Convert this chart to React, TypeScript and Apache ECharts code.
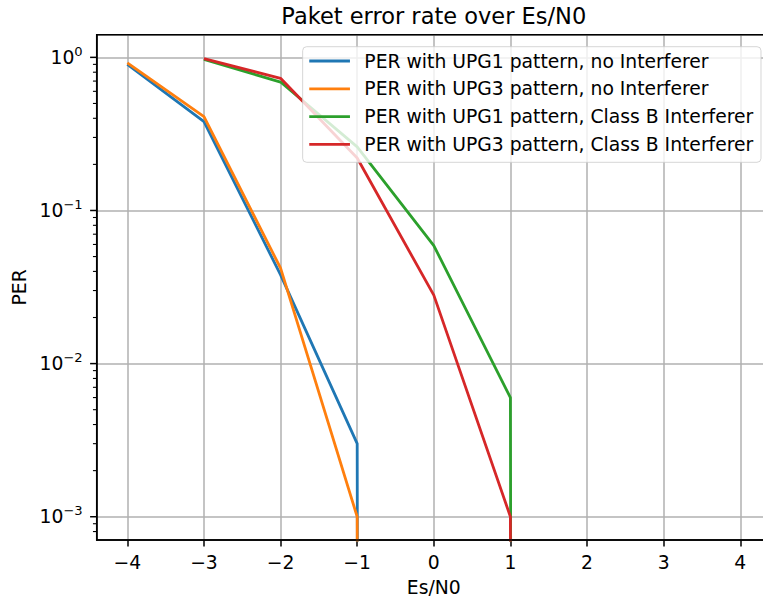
import React, { useEffect, useRef } from 'react';
import * as echarts from 'echarts';

// ---- data ----
const esN0 = [-4, -3, -2, -1, 0, 1, 2, 3, 4];
const seriesNames = [
  'PER with UPG1 pattern, no Interferer',
  'PER with UPG3 pattern, no Interferer',
  'PER with UPG1 pattern, Class B Interferer',
  'PER with UPG3 pattern, Class B Interferer',
];
const perUpg1NoInterferer = [0.9, 0.38, 0.038, 0.003, 0, 0, 0, 0, 0];
const perUpg3NoInterferer = [0.92, 0.41, 0.042, 0.001, 0, 0, 0, 0, 0];
const perUpg1ClassB = [null, 0.97, 0.69, 0.26, 0.059, 0.006, 0, 0, 0];
const perUpg3ClassB = [null, 0.98, 0.73, 0.22, 0.028, 0.001, 0, 0, 0];
const xTickValues = [-4, -3, -2, -1, 0, 1, 2, 3, 4];
const yMajorTickValues = [0.001, 0.01, 0.1, 1];
const yMinorMultipliers = [2, 3, 4, 5, 6, 7, 8, 9];
const yMinorDecades = [-4, -3, -2, -1, 0];

const colors = ['#1f77b4', '#ff7f0e', '#2ca02c', '#d62728'];
const FONT = 'DejaVu Sans';
const W = 763;
const H = 598;
const X_MIN = -4.4;
const X_MAX = 4.4;
const Y_MIN = Math.pow(10, -3.152);
const Y_MAX = Math.pow(10, 0.148);
const LOG_FLOOR = 1e-300; // zero values are clipped to the bottom like matplotlib

const GRID = { left: 96.7, top: 34.7, right: -7.9, bottom: 58 };

function buildData(values: (number | null)[]) {
  const out: [number, number][] = [];
  values.forEach((v, i) => {
    if (v === null) return;
    out.push([esN0[i], v <= 0 ? LOG_FLOOR : v]);
  });
  return out;
}

function supLabel(exp: number) {
  const e = exp < 0 ? '\u2212' + String(-exp) : String(exp);
  return `{b|10}{s|${e}}`;
}

export default function App() {
  const ref = useRef<HTMLDivElement>(null);

  useEffect(() => {
    if (!ref.current) return;
    const chart = echarts.init(ref.current, null, { renderer: 'svg' });
    const allSeries = [perUpg1NoInterferer, perUpg3NoInterferer, perUpg1ClassB, perUpg3ClassB];

    const option: any = {
      animation: false,
      backgroundColor: '#ffffff',
      grid: { ...GRID, containLabel: false, outerBoundsMode: 'none' },
      legend: {
        orient: 'vertical',
        right: 2,
        top: 46.7,
        icon: 'rect',
        itemWidth: 40.7,
        itemHeight: 2.8,
        itemGap: 5.8,
        padding: [3.3, 7.7, 6.9, 6.6],
        backgroundColor: 'rgba(255,255,255,0.8)',
        borderColor: 'rgba(204,204,204,0.8)',
        borderWidth: 1,
        borderRadius: 4,
        data: seriesNames,
        formatter: (name: string) => `{t|${name}}`,
        textStyle: {
          fontSize: 18.75,
          fontFamily: FONT,
          color: '#000',
          lineHeight: 22,
          rich: {
            t: { fontSize: 18.75, fontFamily: FONT, color: '#000', lineHeight: 22, padding: [0, 0, 0, 9.4] },
          },
        },
      },
      xAxis: {
        type: 'value',
        min: X_MIN,
        max: X_MAX,
        axisLine: { show: true, onZero: false, lineStyle: { color: '#000', width: 1.5 } },
        axisTick: { show: true, customValues: xTickValues, length: 6.6, lineStyle: { color: '#000', width: 1.5 } },
        axisLabel: {
          customValues: xTickValues,
          formatter: (v: number) => String(v).replace('-', '\u2212'),
          color: '#000',
          fontSize: 18.75,
          fontFamily: FONT,
          lineHeight: 19,
          margin: 13,
        },
        splitLine: { show: true, lineStyle: { color: '#b0b0b0', width: 1.5 } },
        name: 'Es/N0',
        nameLocation: 'middle',
        nameGap: 37.5,
        nameTextStyle: { color: '#000', fontSize: 18.75, fontFamily: FONT, lineHeight: 19 },
      },
      yAxis: {
        type: 'log',
        logBase: 10,
        min: Y_MIN,
        max: Y_MAX,
        axisLine: { show: true, onZero: false, lineStyle: { color: '#000', width: 1.5 } },
        axisTick: { show: false },
        minorTick: { show: false },
        axisLabel: {
          margin: 14,
          formatter: (v: number) => {
            const l = Math.log10(v);
            const r = Math.round(l);
            return Math.abs(l - r) < 1e-6 ? supLabel(r) : '';
          },
          rich: {
            b: { fontSize: 18.75, fontFamily: FONT, color: '#000', lineHeight: 25, verticalAlign: 'middle' },
            s: { fontSize: 13.1, fontFamily: FONT, color: '#000', lineHeight: 13, verticalAlign: 'top' },
          },
        },
        splitLine: { show: true, lineStyle: { color: '#b0b0b0', width: 1.5 } },
        name: 'PER',
        nameLocation: 'middle',
        nameGap: 67.7,
        nameTextStyle: { color: '#000', fontSize: 18.75, fontFamily: FONT, lineHeight: 19 },
      },
      series: allSeries.map((vals, i) => ({
        name: seriesNames[i],
        type: 'line',
        data: buildData(vals),
        showSymbol: false,
        symbol: 'none',
        clip: true,
        color: colors[i],
        lineStyle: { color: colors[i], width: 2.8, join: 'round', cap: 'butt' },
        emphasis: { disabled: true },
      })),
    };
    chart.setOption(option);

    // y-axis major and minor log ticks, spines, title
    const left = GRID.left;
    const top = GRID.top;
    const gw = W - GRID.left - GRID.right;
    const gh = H - GRID.top - GRID.bottom;
    const graphics: any[] = [];
    yMajorTickValues.forEach((v) => {
      const y = chart.convertToPixel({ yAxisIndex: 0 }, v) as number;
      graphics.push({
        type: 'line',
        z: 50,
        shape: { x1: left - 6.6, y1: y, x2: left, y2: y },
        style: { stroke: '#000', lineWidth: 1.5 },
      });
    });
    yMinorDecades.forEach((k) => {
      yMinorMultipliers.forEach((m) => {
        const v = m * Math.pow(10, k);
        if (v < Y_MIN || v > Y_MAX) return;
        const y = chart.convertToPixel({ yAxisIndex: 0 }, v) as number;
        graphics.push({
          type: 'line',
          z: 50,
          shape: { x1: left - 3.75, y1: y, x2: left, y2: y },
          style: { stroke: '#000', lineWidth: 1.1 },
        });
      });
    });
    graphics.push({
      type: 'rect',
      z: 50,
      shape: { x: left, y: top, width: gw, height: gh },
      style: { fill: 'none', stroke: '#000', lineWidth: 1.5 },
    });
    graphics.push({
      type: 'text',
      z: 50,
      x: left + gw / 2,
      y: 16.2,
      style: {
        text: 'Paket error rate over Es/N0',
        fontSize: 22.5,
        fontFamily: FONT,
        fill: '#000',
        align: 'center',
        verticalAlign: 'middle',
      },
    });
    chart.setOption({ graphic: graphics });

    return () => chart.dispose();
  }, []);

  return <div ref={ref} style={{ position: 'absolute', left: 0, top: 0, width: W, height: H }} />;
}
